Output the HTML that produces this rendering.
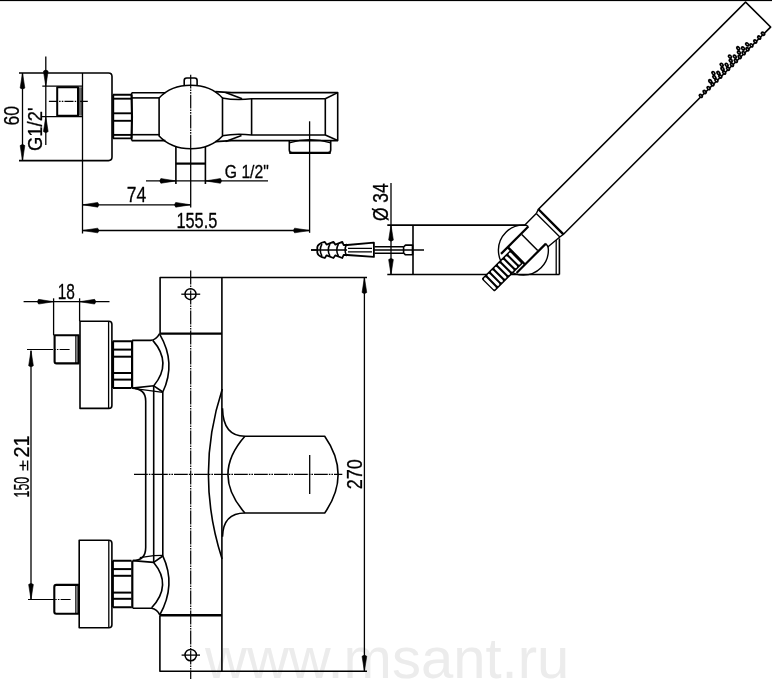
<!DOCTYPE html>
<html><head><meta charset="utf-8"><style>
html,body{margin:0;padding:0;background:#fff;width:772px;height:679px;overflow:hidden}
svg{display:block;will-change:transform}
text{font-family:"Liberation Sans",sans-serif;fill:#000;stroke:#000;stroke-width:0.3px}
</style></head><body>
<svg width="772" height="679" viewBox="0 0 772 679" stroke="#000" stroke-linecap="butt" stroke-linejoin="round">
<text x="205" y="678.3" font-size="58" style="fill:#ececec;stroke:none">www.msant.ru</text>
<rect x="0" y="0" width="772" height="1.1" fill="#000" stroke="none"/>
<path d="M19,73 H108.5 Q112,73 112,76.5 V157 Q112,160.6 108.5,160.6 H19" stroke-width="1.6" fill="none" />
<line x1="82.5" y1="73" x2="82.5" y2="233.5" stroke-width="1.3" />
<line x1="22.5" y1="73" x2="22.5" y2="160.6" stroke-width="1.3" />
<path d="M22.50,73.00 L24.85,88.00 Q22.50,90.20 20.15,88.00 Z" fill="#000" stroke="#000" stroke-width="0.6"/>
<path d="M22.50,160.60 L20.15,145.60 Q22.50,143.40 24.85,145.60 Z" fill="#000" stroke="#000" stroke-width="0.6"/>
<text x="0" y="0" font-size="22.21" textLength="19.50" lengthAdjust="spacingAndGlyphs" transform="translate(19.0,125.5) rotate(-90)">60</text>
<line x1="45.8" y1="56.6" x2="45.8" y2="145" stroke-width="1.3" />
<path d="M45.80,86.20 L43.45,71.20 Q45.80,69.00 48.15,71.20 Z" fill="#000" stroke="#000" stroke-width="0.6"/>
<path d="M45.80,116.60 L48.15,131.60 Q45.80,133.80 43.45,131.60 Z" fill="#000" stroke="#000" stroke-width="0.6"/>
<line x1="42.3" y1="86.2" x2="82.4" y2="86.2" stroke-width="1.3" />
<line x1="41.5" y1="116.6" x2="82.4" y2="116.6" stroke-width="1.3" />
<text x="0" y="0" font-size="19.83" textLength="43.40" lengthAdjust="spacingAndGlyphs" transform="translate(41.7,151) rotate(-90)">G1/2'</text>
<path d="M57.2,87.3 H78 V115.7 H57.2 Z" stroke-width="2.0" fill="none" />
<line x1="79.7" y1="87.3" x2="79.7" y2="115.7" stroke-width="0.8" />
<line x1="81.1" y1="87.3" x2="81.1" y2="115.7" stroke-width="1.2" />
<line x1="48.9" y1="101.3" x2="87.8" y2="101.3" stroke-width="1.2" stroke-dasharray="9 1.2 1.5 1.2 1.5 1.2"/>
<path d="M113,94.7 H131.5 M113,138.4 H131.5" stroke-width="1.9" fill="none" />
<line x1="113.2" y1="94.7" x2="113.2" y2="138.4" stroke-width="2.0" />
<path d="M131.5,94.7 Q132.6,116.5 131.5,138.4" stroke-width="2.0" fill="none" />
<line x1="113" y1="98.7" x2="132" y2="98.7" stroke-width="1.9" />
<line x1="113" y1="113.3" x2="132" y2="113.3" stroke-width="1.9" />
<line x1="113" y1="120.8" x2="132" y2="120.8" stroke-width="1.9" />
<line x1="113" y1="134.9" x2="132" y2="134.9" stroke-width="1.9" />
<path d="M131.7,92.7 H165.4 M131.7,140.6 H165.4" stroke-width="1.6" fill="none" />
<line x1="131.7" y1="97.9" x2="159.6" y2="97.9" stroke-width="1.6" />
<line x1="131.7" y1="134.7" x2="159.6" y2="134.7" stroke-width="1.6" />
<line x1="131.7" y1="92.7" x2="131.7" y2="140.6" stroke-width="1.6" />
<path d="M159.1,98 A39.6,31.7 0 0 1 222.5,98 V136 A39.6,31.7 0 0 1 159.1,136 Z" stroke-width="1.6" fill="none" />
<path d="M184.2,86 V80.5 Q184.2,78 186.7,78 H194.6 Q197.1,78 197.1,80.5 V86" stroke-width="1.6" fill="none" />
<line x1="190.7" y1="74.7" x2="190.7" y2="149" stroke-width="1.2" stroke-dasharray="13.8 1 1.6 1 1.6 1"/>
<line x1="190.7" y1="148" x2="190.7" y2="207.4" stroke-width="1.3" />
<path d="M175.9,147 V184.1 M205.4,147 V184.1" stroke-width="1.6" fill="none" />
<line x1="175.9" y1="163.6" x2="205.4" y2="163.6" stroke-width="2.2" />
<path d="M215.3,91.6 L231.5,92.6 H337.7 V140.6 H231.5 L215.3,141.6" stroke-width="1.6" fill="none" />
<path d="M222,98 Q236,100.6 251.6,98.8 H325.3 V135 H251.6 Q236,133.2 222,135.8" stroke-width="1.6" fill="none" />
<line x1="225.6" y1="92.6" x2="242.1" y2="98.8" stroke-width="1.6" />
<line x1="225.6" y1="141.4" x2="241.5" y2="135.6" stroke-width="1.6" />
<line x1="251.6" y1="98.8" x2="251.6" y2="135" stroke-width="1.6" />
<line x1="325.3" y1="98.8" x2="337.7" y2="92.6" stroke-width="1.6" />
<line x1="325.3" y1="135" x2="337.7" y2="140.6" stroke-width="1.6" />
<path d="M289.3,140.4 V150 Q289.3,152.9 292.3,152.9 H327.7 Q330.7,152.9 330.7,150 V140.4" stroke-width="1.6" fill="none" />
<line x1="289.3" y1="152.9" x2="330.7" y2="152.9" stroke-width="2.4" />
<path d="M289.3,142.8 Q310,136.5 330.7,142.8" stroke-width="1.3" fill="none" />
<line x1="309.6" y1="121.3" x2="309.6" y2="232.8" stroke-width="1.3" />
<line x1="146" y1="180.9" x2="268" y2="180.9" stroke-width="1.3" />
<path d="M175.90,180.90 L160.90,183.25 Q158.70,180.90 160.90,178.55 Z" fill="#000" stroke="#000" stroke-width="0.6"/>
<path d="M205.40,180.90 L220.40,178.55 Q222.60,180.90 220.40,183.25 Z" fill="#000" stroke="#000" stroke-width="0.6"/>
<text x="224.8" y="178.4" font-size="18.44" textLength="44.00" lengthAdjust="spacingAndGlyphs">G 1/2"</text>
<line x1="82.7" y1="204.8" x2="190.7" y2="204.8" stroke-width="1.3" />
<path d="M82.70,204.80 L97.70,202.45 Q99.90,204.80 97.70,207.15 Z" fill="#000" stroke="#000" stroke-width="0.6"/>
<path d="M190.70,204.80 L175.70,207.15 Q173.50,204.80 175.70,202.45 Z" fill="#000" stroke="#000" stroke-width="0.6"/>
<text x="126.7" y="202.3" font-size="22.49" textLength="19.40" lengthAdjust="spacingAndGlyphs">74</text>
<line x1="82.7" y1="230.5" x2="309.6" y2="230.5" stroke-width="1.3" />
<path d="M82.70,230.50 L97.70,228.15 Q99.90,230.50 97.70,232.85 Z" fill="#000" stroke="#000" stroke-width="0.6"/>
<path d="M309.60,230.50 L294.60,232.85 Q292.40,230.50 294.60,228.15 Z" fill="#000" stroke="#000" stroke-width="0.6"/>
<text x="176.4" y="227.6" font-size="22.07" textLength="40.90" lengthAdjust="spacingAndGlyphs">155.5</text>
<line x1="391" y1="183" x2="391" y2="274.8" stroke-width="1.3" />
<path d="M391.00,225.10 L393.35,240.10 Q391.00,242.30 388.65,240.10 Z" fill="#000" stroke="#000" stroke-width="0.6"/>
<path d="M391.00,274.60 L388.65,259.60 Q391.00,257.40 393.35,259.60 Z" fill="#000" stroke="#000" stroke-width="0.6"/>
<text x="0" y="0" font-size="22.77" textLength="37.60" lengthAdjust="spacingAndGlyphs" transform="translate(388.3,221) rotate(-90)">Ø 34</text>
<line x1="387.3" y1="225.1" x2="527" y2="225.1" stroke-width="1.6" />
<line x1="387.3" y1="274.5" x2="559.5" y2="274.5" stroke-width="1.6" />
<line x1="413" y1="225.1" x2="413" y2="274.5" stroke-width="1.6" />
<line x1="556.2" y1="238.4" x2="556.2" y2="274.5" stroke-width="1.3" />
<line x1="559.4" y1="238.4" x2="559.4" y2="274.5" stroke-width="1.6" />
<line x1="311" y1="250" x2="424" y2="250" stroke-width="1.3" />
<path d="M317.3,247.2 Q317.8,243.6 324.8,241.9 L326.6,244.6 L333.4,241.9 L335.4,244.6 L342.3,241.9 L343.6,245 H347.2 L373.9,242.7 V256.9 L347.2,255 H343.6 L342.3,258 L335.4,255.3 L333.4,258 L326.6,255.3 L324.8,258 Q317.8,256.3 317.3,252.6 Z" fill="#fff" stroke-width="1.8"/>
<path d="M322.0,244 Q318.5,250 322.0,256" stroke-width="1.5" fill="none" />
<path d="M330.0,244 Q326.5,250 330.0,256" stroke-width="1.5" fill="none" />
<path d="M338.5,244 Q335.0,250 338.5,256" stroke-width="1.5" fill="none" />
<path d="M346.8,244 Q343.3,250 346.8,256" stroke-width="1.5" fill="none" />
<line x1="311" y1="250" x2="347" y2="250" stroke-width="1.3" />
<path d="M348,248.4 H372 M348,251.8 H372" stroke-width="1.2" fill="none" />
<path d="M374.5,246.7 H403.6 M374.5,253.2 H403.6" stroke-width="1.6" fill="none" />
<path d="M403.6,247 L405.5,245.1 H412.5 V254.8 H405.5 L403.6,253 Z" stroke-width="1.6" fill="none" />
<circle cx="523.4" cy="250.1" r="25" stroke-width="1.4" fill="none"/>
<g transform="translate(550.5,221.35) rotate(-45)">
<path d="M0,-17.1 H293 V18.3 H0 Z" fill="#fff" stroke-width="1.6"/>
<path d="M0,-17.1 L-4.5,-15.6 L-20.3,-15.6 L-19.5,-12 L-58,-12 L-60.5,12.5 L-19,12.5 L-19.7,16.2 L-4.5,17.7 L0,18.3 Z" fill="#fff" stroke="none"/>
<line x1="0" y1="-17.1" x2="0" y2="18.3" stroke-width="2.4" />
<path d="M0,-17.1 L-4.5,-15.6 M0,18.3 L-4.5,17.7" stroke-width="1.4" fill="none" />
<path d="M-4.5,-15.6 L-4.5,17.7" stroke-width="1.3" fill="none" />
<path d="M-4.5,-15.6 L-20.3,-15.6 L-19.3,-12" stroke-width="1.4" fill="none" />
<path d="M-4.5,17.7 L-19.7,16.2 L-19,12.5" stroke-width="1.4" fill="none" />
<path d="M-19.3,-12 L-58,-12" stroke-width="2.2" fill="none" />
<path d="M-19,12.5 L-60.5,12.5" stroke-width="2.2" fill="none" />
<line x1="-29.6" y1="-11" x2="-29.6" y2="11.5" stroke-width="1.5" />
<line x1="-48.5" y1="-12" x2="-48.5" y2="12.5" stroke-width="2.4" />
<rect x="-89.5" y="-8.2" width="41" height="18.4" rx="1.5" fill="#000" stroke="none"/>
<rect x="-88.20" y="-6.8" width="2.9" height="15.6" rx="1.4" fill="#fff" stroke="none"/>
<rect x="-83.20" y="-6.8" width="2.9" height="15.6" rx="1.4" fill="#fff" stroke="none"/>
<rect x="-78.20" y="-6.8" width="2.9" height="15.6" rx="1.4" fill="#fff" stroke="none"/>
<rect x="-73.20" y="-6.8" width="2.9" height="15.6" rx="1.4" fill="#fff" stroke="none"/>
<rect x="-68.20" y="-6.8" width="2.9" height="15.6" rx="1.4" fill="#fff" stroke="none"/>
<rect x="-63.20" y="-6.8" width="2.9" height="15.6" rx="1.4" fill="#fff" stroke="none"/>
<rect x="-58.20" y="-6.8" width="2.9" height="15.6" rx="1.4" fill="#fff" stroke="none"/>
<rect x="-53.20" y="-6.8" width="2.9" height="15.6" rx="1.4" fill="#fff" stroke="none"/>
</g>
<g transform="translate(550.5,221.35) rotate(-45)">
<ellipse cx="195.0" cy="17.6" rx="2.0" ry="2.6" stroke="none" fill="#000"/><ellipse cx="195.0" cy="17.6" rx="0.4" ry="0.7" stroke="none" fill="#fff"/>
<ellipse cx="200.5" cy="17.6" rx="2.0" ry="2.6" stroke="none" fill="#000"/><ellipse cx="200.5" cy="17.6" rx="0.4" ry="0.7" stroke="none" fill="#fff"/>
<ellipse cx="206.0" cy="17.6" rx="2.0" ry="2.6" stroke="none" fill="#000"/><ellipse cx="206.0" cy="17.6" rx="0.4" ry="0.7" stroke="none" fill="#fff"/>
<ellipse cx="211.5" cy="17.6" rx="2.0" ry="2.6" stroke="none" fill="#000"/><ellipse cx="211.5" cy="17.6" rx="0.4" ry="0.7" stroke="none" fill="#fff"/>
<ellipse cx="217.0" cy="17.6" rx="2.0" ry="2.6" stroke="none" fill="#000"/><ellipse cx="217.0" cy="17.6" rx="0.4" ry="0.7" stroke="none" fill="#fff"/>
<ellipse cx="222.5" cy="17.6" rx="2.0" ry="2.6" stroke="none" fill="#000"/><ellipse cx="222.5" cy="17.6" rx="0.4" ry="0.7" stroke="none" fill="#fff"/>
<ellipse cx="228.0" cy="17.6" rx="2.0" ry="2.6" stroke="none" fill="#000"/><ellipse cx="228.0" cy="17.6" rx="0.4" ry="0.7" stroke="none" fill="#fff"/>
<ellipse cx="233.5" cy="17.6" rx="2.0" ry="2.6" stroke="none" fill="#000"/><ellipse cx="233.5" cy="17.6" rx="0.4" ry="0.7" stroke="none" fill="#fff"/>
<ellipse cx="239.0" cy="17.6" rx="2.0" ry="2.6" stroke="none" fill="#000"/><ellipse cx="239.0" cy="17.6" rx="0.4" ry="0.7" stroke="none" fill="#fff"/>
<ellipse cx="244.5" cy="17.6" rx="2.0" ry="2.6" stroke="none" fill="#000"/><ellipse cx="244.5" cy="17.6" rx="0.4" ry="0.7" stroke="none" fill="#fff"/>
<ellipse cx="250.0" cy="17.6" rx="2.0" ry="2.6" stroke="none" fill="#000"/><ellipse cx="250.0" cy="17.6" rx="0.4" ry="0.7" stroke="none" fill="#fff"/>
<ellipse cx="255.5" cy="17.6" rx="2.0" ry="2.6" stroke="none" fill="#000"/><ellipse cx="255.5" cy="17.6" rx="0.4" ry="0.7" stroke="none" fill="#fff"/>
<ellipse cx="261.0" cy="17.6" rx="2.0" ry="2.6" stroke="none" fill="#000"/><ellipse cx="261.0" cy="17.6" rx="0.4" ry="0.7" stroke="none" fill="#fff"/>
<ellipse cx="266.5" cy="17.6" rx="2.0" ry="2.6" stroke="none" fill="#000"/><ellipse cx="266.5" cy="17.6" rx="0.4" ry="0.7" stroke="none" fill="#fff"/>
<ellipse cx="272.0" cy="17.6" rx="2.0" ry="2.6" stroke="none" fill="#000"/><ellipse cx="272.0" cy="17.6" rx="0.4" ry="0.7" stroke="none" fill="#fff"/>
<ellipse cx="277.5" cy="17.6" rx="2.0" ry="2.6" stroke="none" fill="#000"/><ellipse cx="277.5" cy="17.6" rx="0.4" ry="0.7" stroke="none" fill="#fff"/>
<ellipse cx="283.0" cy="17.6" rx="2.0" ry="2.6" stroke="none" fill="#000"/><ellipse cx="283.0" cy="17.6" rx="0.4" ry="0.7" stroke="none" fill="#fff"/>
<ellipse cx="212.0" cy="13.9" rx="2.0" ry="2.6" stroke="none" fill="#000"/><ellipse cx="212.0" cy="13.9" rx="0.4" ry="0.7" stroke="none" fill="#fff"/>
<ellipse cx="217.8" cy="13.9" rx="2.0" ry="2.6" stroke="none" fill="#000"/><ellipse cx="217.8" cy="13.9" rx="0.4" ry="0.7" stroke="none" fill="#fff"/>
<ellipse cx="223.6" cy="13.9" rx="2.0" ry="2.6" stroke="none" fill="#000"/><ellipse cx="223.6" cy="13.9" rx="0.4" ry="0.7" stroke="none" fill="#fff"/>
<ellipse cx="229.4" cy="13.9" rx="2.0" ry="2.6" stroke="none" fill="#000"/><ellipse cx="229.4" cy="13.9" rx="0.4" ry="0.7" stroke="none" fill="#fff"/>
<ellipse cx="235.2" cy="13.9" rx="2.0" ry="2.6" stroke="none" fill="#000"/><ellipse cx="235.2" cy="13.9" rx="0.4" ry="0.7" stroke="none" fill="#fff"/>
<ellipse cx="241.0" cy="13.9" rx="2.0" ry="2.6" stroke="none" fill="#000"/><ellipse cx="241.0" cy="13.9" rx="0.4" ry="0.7" stroke="none" fill="#fff"/>
<ellipse cx="246.8" cy="13.9" rx="2.0" ry="2.6" stroke="none" fill="#000"/><ellipse cx="246.8" cy="13.9" rx="0.4" ry="0.7" stroke="none" fill="#fff"/>
<ellipse cx="252.6" cy="13.9" rx="2.0" ry="2.6" stroke="none" fill="#000"/><ellipse cx="252.6" cy="13.9" rx="0.4" ry="0.7" stroke="none" fill="#fff"/>
<ellipse cx="258.4" cy="13.9" rx="2.0" ry="2.6" stroke="none" fill="#000"/><ellipse cx="258.4" cy="13.9" rx="0.4" ry="0.7" stroke="none" fill="#fff"/>
<ellipse cx="264.2" cy="13.9" rx="2.0" ry="2.6" stroke="none" fill="#000"/><ellipse cx="264.2" cy="13.9" rx="0.4" ry="0.7" stroke="none" fill="#fff"/>
<ellipse cx="220.0" cy="10.4" rx="2.0" ry="2.6" stroke="none" fill="#000"/><ellipse cx="220.0" cy="10.4" rx="0.4" ry="0.7" stroke="none" fill="#fff"/>
<ellipse cx="231.7" cy="10.4" rx="2.0" ry="2.6" stroke="none" fill="#000"/><ellipse cx="231.7" cy="10.4" rx="0.4" ry="0.7" stroke="none" fill="#fff"/>
<ellipse cx="243.4" cy="10.4" rx="2.0" ry="2.6" stroke="none" fill="#000"/><ellipse cx="243.4" cy="10.4" rx="0.4" ry="0.7" stroke="none" fill="#fff"/>
<ellipse cx="255.1" cy="10.4" rx="2.0" ry="2.6" stroke="none" fill="#000"/><ellipse cx="255.1" cy="10.4" rx="0.4" ry="0.7" stroke="none" fill="#fff"/>
</g>
<path d="M160.1,333.6 V277.5 H367" stroke-width="1.6" fill="none" />
<line x1="160.1" y1="333.6" x2="221.9" y2="333.6" stroke-width="2.4" />
<circle cx="190.5" cy="294.2" r="5.5" stroke-width="1.5" fill="none"/>
<line x1="181.3" y1="294.2" x2="200.2" y2="294.2" stroke-width="1.3" />
<line x1="190.7" y1="270.6" x2="190.7" y2="679" stroke-width="1.2" stroke-dasharray="13.8 1 1.6 1 1.6 1"/>
<line x1="221.9" y1="277.5" x2="221.9" y2="671" stroke-width="1.6" />
<line x1="159.9" y1="615.3" x2="221.9" y2="615.3" stroke-width="2.4" />
<path d="M159.9,615.3 V671.3 H367" stroke-width="1.6" fill="none" />
<circle cx="190.7" cy="655.1" r="5.7" stroke-width="1.5" fill="none"/>
<line x1="181.6" y1="655.1" x2="200" y2="655.1" stroke-width="1.3" />
<path d="M132.1,340.4 H150.5 Q156,340 159.8,333.3" stroke-width="1.6" fill="none" />
<path d="M159.8,334.3 Q176.5,363 162.8,392" stroke-width="1.6" fill="none" />
<path d="M152.8,340.4 Q172.5,363 153.8,385.8" stroke-width="1.6" fill="none" />
<path d="M132.1,388.1 L153.8,385.8 L162.8,392" stroke-width="1.6" fill="none" />
<path d="M135,388.7 L162.8,392.3" stroke-width="1.2" fill="none" />
<path d="M132.1,388.1 Q145.7,388.5 145.7,401 V547.5 Q145.7,560.6 132.7,560.6" stroke-width="1.6" fill="none" />
<line x1="153.7" y1="385.8" x2="153.7" y2="562.4" stroke-width="1.6" />
<line x1="162.8" y1="392" x2="162.8" y2="555.9" stroke-width="1.6" />
<line x1="132.1" y1="340.4" x2="132.1" y2="388.1" stroke-width="2.2" />
<path d="M132.7,560.6 L153.7,562.4 L162.8,556" stroke-width="1.6" fill="none" />
<path d="M139.8,557.7 L153.7,555.6 L162.8,555.3" stroke-width="1.2" fill="none" />
<path d="M162.8,555.9 Q176.5,585 159.8,614.9" stroke-width="1.6" fill="none" />
<path d="M153.7,562.4 Q172.5,585 151.6,607.8" stroke-width="1.6" fill="none" />
<path d="M132.7,608.2 H151.6 Q157,609 159.8,614.9" stroke-width="1.6" fill="none" />
<line x1="132.3" y1="560.6" x2="132.3" y2="608.2" stroke-width="2.2" />
<path d="M113,341.2 H131.5 M113,388 H131.5" stroke-width="2.0" fill="none" />
<line x1="113" y1="341.2" x2="113" y2="388" stroke-width="2.2" />
<line x1="113" y1="349.6" x2="131.5" y2="349.6" stroke-width="2.0" />
<line x1="113" y1="356.7" x2="131.5" y2="356.7" stroke-width="2.0" />
<line x1="113" y1="373.0" x2="131.5" y2="373.0" stroke-width="2.0" />
<line x1="113" y1="379.6" x2="131.5" y2="379.6" stroke-width="2.0" />
<path d="M80,321.2 H108.9 Q111.9,321.2 111.9,324.2 V405.4 Q111.9,408.4 108.9,408.4 H80 Z" stroke-width="1.6" fill="none" />
<line x1="108.6" y1="321.2" x2="108.6" y2="408.4" stroke-width="1.3" />
<path d="M54.6,335.3 H78.6 V363.4 H56.6 Q54.6,363.4 54.6,361.4 Z" stroke-width="2.1" fill="none" />
<line x1="75.8" y1="335.3" x2="75.8" y2="363.4" stroke-width="1.1" />
<line x1="77.1" y1="335.3" x2="77.1" y2="363.4" stroke-width="0.6" />
<line x1="27" y1="349.5" x2="82.8" y2="349.5" stroke-width="1.2" stroke-dasharray="26 1.2 1.5 1.2 1.5 1.2 10"/>
<path d="M112.8,560.7 H131.5 M112.8,607.2 H131.5" stroke-width="2.0" fill="none" />
<line x1="112.8" y1="560.7" x2="112.8" y2="607.2" stroke-width="2.2" />
<line x1="112.8" y1="569.1" x2="131.5" y2="569.1" stroke-width="2.0" />
<line x1="112.8" y1="575.8" x2="131.5" y2="575.8" stroke-width="2.0" />
<line x1="112.8" y1="592.6" x2="131.5" y2="592.6" stroke-width="2.0" />
<line x1="112.8" y1="598.8" x2="131.5" y2="598.8" stroke-width="2.0" />
<path d="M79.2,540.3 H108.9 Q111.9,540.3 111.9,543.3 V624.8 Q111.9,627.8 108.9,627.8 H79.2 Z" stroke-width="1.6" fill="none" />
<line x1="108.8" y1="540.3" x2="108.8" y2="627.8" stroke-width="1.3" />
<path d="M56.3,584.9 H78.6 V613.8 H56.3 Q54.3,613.8 54.3,611.8 V586.9 Q54.3,584.9 56.3,584.9 Z" stroke-width="2.1" fill="none" />
<line x1="75.8" y1="584.9" x2="75.8" y2="613.8" stroke-width="1.1" />
<line x1="77.1" y1="584.9" x2="77.1" y2="613.8" stroke-width="0.6" />
<line x1="28" y1="599.5" x2="82.8" y2="599.5" stroke-width="1.2" stroke-dasharray="26 1.2 1.5 1.2 1.5 1.2 10"/>
<line x1="23.6" y1="301.7" x2="109.5" y2="301.7" stroke-width="1.3" />
<path d="M53.60,301.70 L38.60,304.05 Q36.40,301.70 38.60,299.35 Z" fill="#000" stroke="#000" stroke-width="0.6"/>
<path d="M79.60,301.70 L94.60,299.35 Q96.80,301.70 94.60,304.05 Z" fill="#000" stroke="#000" stroke-width="0.6"/>
<line x1="53.6" y1="298.3" x2="53.6" y2="335.3" stroke-width="1.3" />
<line x1="79.6" y1="298.3" x2="79.6" y2="321.2" stroke-width="1.3" />
<text x="57.7" y="298.9" font-size="21.51" textLength="17.20" lengthAdjust="spacingAndGlyphs">18</text>
<line x1="31" y1="350.7" x2="31" y2="599.5" stroke-width="1.3" />
<path d="M31.00,350.70 L33.35,365.70 Q31.00,367.90 28.65,365.70 Z" fill="#000" stroke="#000" stroke-width="0.6"/>
<path d="M31.00,599.50 L28.65,584.50 Q31.00,582.30 33.35,584.50 Z" fill="#000" stroke="#000" stroke-width="0.6"/>
<text x="0" y="0" font-size="22.63" textLength="20.60" lengthAdjust="spacingAndGlyphs" transform="translate(28.7,497.4) rotate(-90)">150</text>
<text x="0" y="0" font-size="22.63" textLength="22.10" lengthAdjust="spacingAndGlyphs" transform="translate(28.7,457.6) rotate(-90)">21</text>
<line x1="23" y1="460.5" x2="23" y2="470.5" stroke-width="1.4" />
<line x1="19.5" y1="465.5" x2="26" y2="465.5" stroke-width="1.4" />
<line x1="27.6" y1="460.5" x2="27.6" y2="470.5" stroke-width="1.4" />
<path d="M222.3,389 Q194.6,474 222.1,559" stroke-width="1.6" fill="none" />
<path d="M222.5,408.3 Q223,436.3 244.9,436.3 H324.7 Q351.5,474.6 324.7,513 H244.9 Q223,513 222.5,536.8" stroke-width="1.6" fill="none" />
<path d="M244.9,436.3 Q211,474.6 244.9,513" stroke-width="1.6" fill="none" />
<line x1="134" y1="474.3" x2="342.3" y2="474.3" stroke-width="1.3" stroke-dasharray="13.8 1 1.6 1 1.6 1"/>
<line x1="309.7" y1="455" x2="309.7" y2="494" stroke-width="1.3" />
<line x1="364.4" y1="277.5" x2="364.4" y2="671.3" stroke-width="1.3" />
<path d="M364.40,277.50 L366.75,292.50 Q364.40,294.70 362.05,292.50 Z" fill="#000" stroke="#000" stroke-width="0.6"/>
<path d="M364.40,671.30 L362.05,656.30 Q364.40,654.10 366.75,656.30 Z" fill="#000" stroke="#000" stroke-width="0.6"/>
<text x="0" y="0" font-size="21.37" textLength="30.10" lengthAdjust="spacingAndGlyphs" transform="translate(361.6,489.2) rotate(-90)">270</text>
</svg></body></html>
